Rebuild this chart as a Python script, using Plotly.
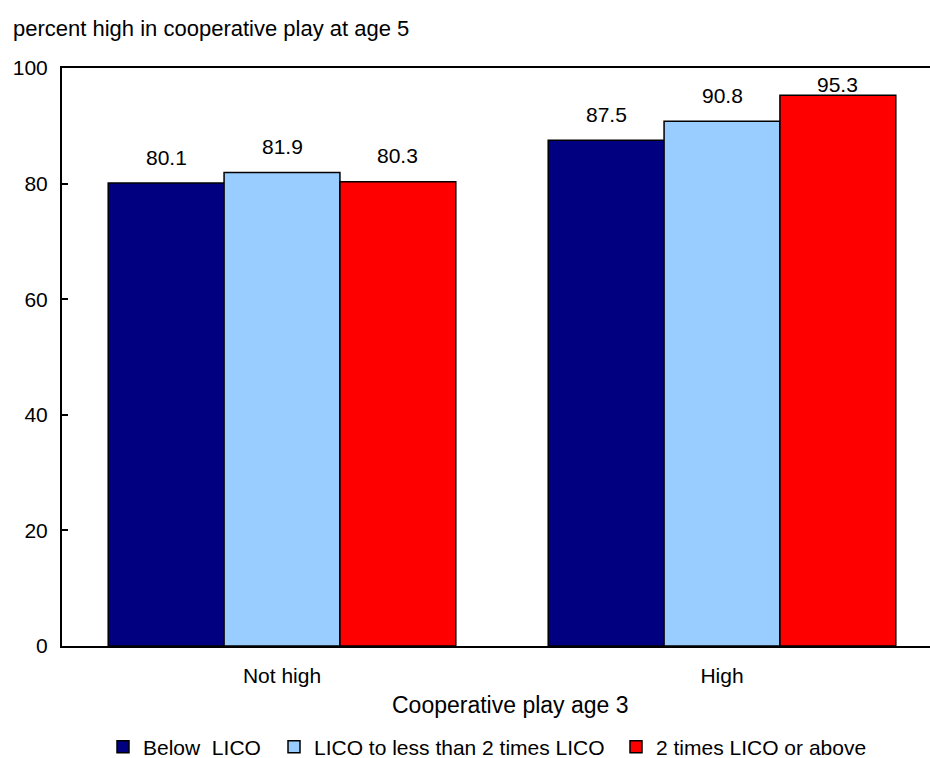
import plotly.graph_objects as go

# Cooperative play at age 3 (categories) and income groups (series)
categories = ["Not high", "High"]
series_names = ["Below  LICO", "LICO to less than 2 times LICO", "2 times LICO or above"]
below_lico = [80.1, 87.5]
lico_to_2x = [81.9, 90.8]
above_2x = [80.3, 95.3]
y_ticks = [0, 20, 40, 60, 80, 100]

colors = ["#000080", "#99CCFF", "#FF0000"]
font = "Liberation Sans, Arial, sans-serif"
FS = 21

# plotting area in pixels
PL, PT, PW, PH = 62, 68, 868, 578

BARGAP = 0.21
bar_w = (1 - BARGAP) / 3  # width of one bar in category units

# left edge (px) of each legend entry's swatch
legend_left = [117, 288, 630]
legend_ids = ["legend", "legend2", "legend3"]

x_pos = list(range(len(categories)))
fig = go.Figure()
annotations = []
for i, (name, vals, col) in enumerate(zip(series_names, [below_lico, lico_to_2x, above_2x], colors)):
    fig.add_trace(go.Bar(
        x=x_pos, y=vals, name=name, legend=legend_ids[i],
        marker=dict(color=col, line=dict(color="black", width=1.5)),
    ))
    # value labels above each bar, kept inside the plotting area
    for xc, v in zip(x_pos, vals):
        annotations.append(dict(
            x=xc + (i - 1) * bar_w, y=min(v + 4.5, 97.1), xref="x", yref="y",
            text=f"{v:.1f}", showarrow=False, xanchor="center", yanchor="middle",
            font=dict(size=FS, color="black"),
        ))

annotations.append(dict(
    text="percent high in cooperative play at age 5",
    xref="paper", yref="paper", x=(12 - PL) / PW, y=(PT + PH - 28) / PH,
    xanchor="left", yanchor="middle", showarrow=False,
    font=dict(size=22), xshift=-1,
))
annotations.append(dict(
    text="Cooperative play age 3",
    xref="paper", yref="paper", x=(511 - PL) / PW, y=(PT + PH - 705) / PH,
    xanchor="center", yanchor="middle", showarrow=False,
    font=dict(size=23),
))

legends = {}
for lid, left in zip(legend_ids, legend_left):
    legends[lid] = dict(
        orientation="h", xref="container", yref="container",
        x=(left - 14) / 930, xanchor="left", y=1 - 747 / 758, yanchor="middle",
        font=dict(size=FS), bgcolor="rgba(0,0,0,0)",
    )

fig.update_layout(
    width=930, height=758,
    margin=dict(l=PL, r=930 - PL - PW, t=PT, b=758 - PT - PH, autoexpand=False),
    paper_bgcolor="white", plot_bgcolor="white",
    barmode="group", bargap=BARGAP, bargroupgap=0,
    font=dict(family=font, size=FS, color="black"),
    showlegend=True,
    xaxis=dict(
        tickmode="array", tickvals=x_pos, ticktext=categories,
        range=[-0.5, -0.5 + PW / 440],
        showline=True, mirror=True, linecolor="black", linewidth=2,
        showgrid=False, zeroline=False, ticks="",
        ticklabelstandoff=10,
        tickfont=dict(size=FS),
    ),
    yaxis=dict(
        range=[0, 100], tickvals=y_ticks,
        showline=True, linecolor="black", linewidth=2,
        showgrid=False, zeroline=False,
        ticks="inside", ticklen=6, tickwidth=2, tickcolor="black",
        tickfont=dict(size=FS), ticklabelstandoff=8,
    ),
    annotations=annotations,
    **legends,
)

fig.write_html("out.html")
